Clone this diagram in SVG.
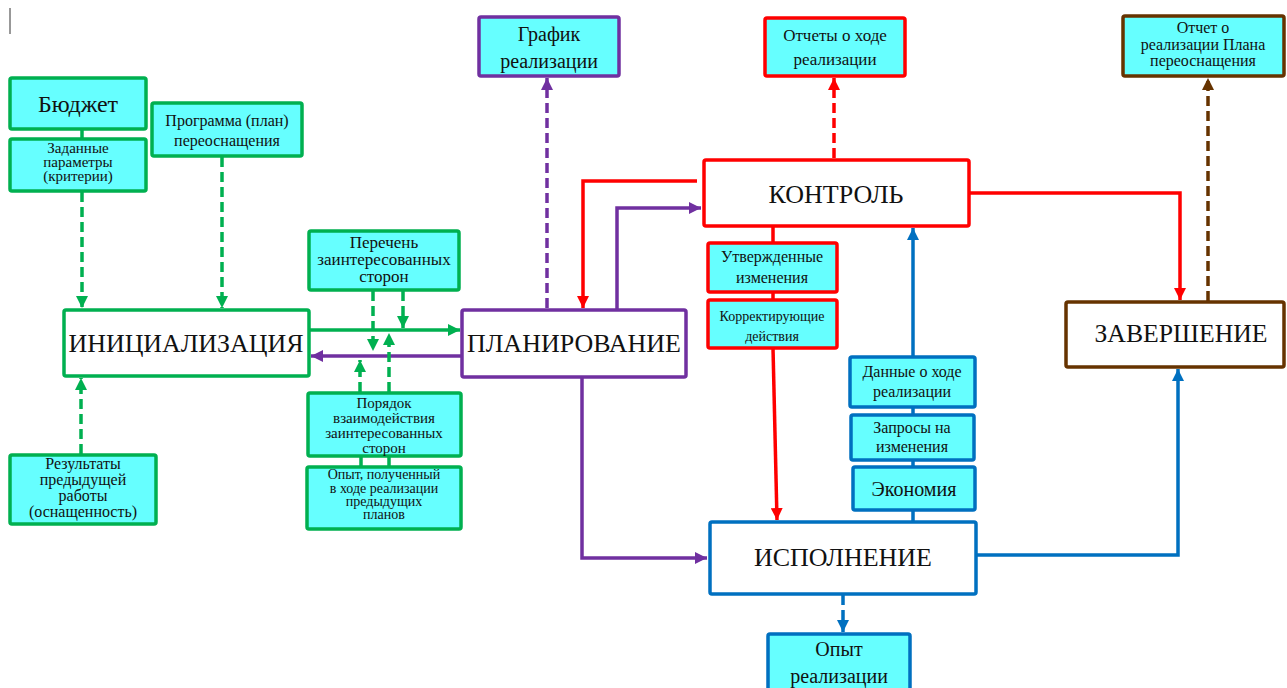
<svg xmlns="http://www.w3.org/2000/svg" width="1287" height="688" viewBox="0 0 1287 688">
<defs>
<style>
text{font-family:"Liberation Serif","DejaVu Serif",serif;fill:#111;text-anchor:middle}
.box{stroke-width:3.5}
.cy{fill:#66FFFF}
.wh{fill:#FFFFFF}
.g{stroke:#00B050}
.p{stroke:#7030A0}
.r{stroke:#FF0000}
.b{stroke:#0070C0}
.br{stroke:#663300}
.c{fill:none;stroke-width:3.5}
.d{stroke-dasharray:10 5}
.big{font-size:26px}
.s14{font-size:14px}
.s15{font-size:15px}
.s16{font-size:16px}
.s17{font-size:17px}
.s20{font-size:20px}
.s24{font-size:24px}
</style>
<marker id="ag" viewBox="0 0 10 10" refX="10" refY="5" markerWidth="12" markerHeight="12" markerUnits="userSpaceOnUse" orient="auto"><path d="M0,0L10,5L0,10z" fill="#00B050"/></marker>
<marker id="ap" viewBox="0 0 10 10" refX="10" refY="5" markerWidth="12" markerHeight="12" markerUnits="userSpaceOnUse" orient="auto"><path d="M0,0L10,5L0,10z" fill="#7030A0"/></marker>
<marker id="ar" viewBox="0 0 10 10" refX="10" refY="5" markerWidth="12" markerHeight="12" markerUnits="userSpaceOnUse" orient="auto"><path d="M0,0L10,5L0,10z" fill="#FF0000"/></marker>
<marker id="ab" viewBox="0 0 10 10" refX="10" refY="5" markerWidth="12" markerHeight="12" markerUnits="userSpaceOnUse" orient="auto"><path d="M0,0L10,5L0,10z" fill="#0070C0"/></marker>
<marker id="abr" viewBox="0 0 10 10" refX="10" refY="5" markerWidth="12" markerHeight="12" markerUnits="userSpaceOnUse" orient="auto"><path d="M0,0L10,5L0,10z" fill="#663300"/></marker>
</defs>
<rect width="1287" height="688" fill="#FFFFFF"/>
<line x1="10" y1="8" x2="10" y2="34" stroke="#333" stroke-width="1"/>

<g id="connectors">
<path class="c g" d="M82,129V139"/>
<path class="c g d" d="M82,192V308" marker-end="url(#ag)"/>
<path class="c g d" d="M222,157V308" marker-end="url(#ag)"/>
<path class="c g d" d="M81,454V378" marker-end="url(#ag)"/>
<path class="c g" d="M309,330H460" marker-end="url(#ag)"/>
<path class="c p" d="M462,356H311" marker-end="url(#ap)"/>
<path class="c g d" d="M373,291V351" marker-end="url(#ag)"/>
<path class="c g d" d="M403,291V328" marker-end="url(#ag)"/>
<path class="c g d" d="M360,392V360" marker-end="url(#ag)"/>
<path class="c g d" d="M389,392V333" marker-end="url(#ag)"/>
<path class="c g" d="M361,457V467M389,457V467"/>
<path class="c p d" d="M547,308V78" marker-end="url(#ap)"/>
<path class="c p" d="M617,309V208H701" marker-end="url(#ap)"/>
<path class="c r" d="M697,181H583V308" marker-end="url(#ar)"/>
<path class="c p" d="M582,378V558H707" marker-end="url(#ap)"/>
<path class="c r d" d="M834,158V78" marker-end="url(#ar)"/>
<path class="c r" d="M969,193H1180V300" marker-end="url(#ar)"/>
<path class="c br d" d="M1208,301V78" marker-end="url(#abr)"/>
<path class="c r" d="M773,226V243M773,292V300"/>
<path class="c r" d="M773,348L777,520" marker-end="url(#ar)"/>
<path class="c b" d="M913,357V228" marker-end="url(#ab)"/>
<path class="c b" d="M913,407V415M913,460V467M913,510V522"/>
<path class="c b" d="M976,555H1178V369" marker-end="url(#ab)"/>
<path class="c b d" d="M843,595V632" marker-end="url(#ab)"/>
</g>

<g font-family="'Liberation Serif', 'DejaVu Serif', serif">
<g id="budget"><rect class="box cy g" x="10" y="78" width="136" height="51" rx="2"/><text class="s24" x="78" y="112">Бюджет</text></g>
<g id="criteria"><rect class="box cy g" x="10" y="139" width="136" height="52" rx="2"/><text class="s15" x="78" y="153">Заданные</text><text class="s15" x="78" y="167">параметры</text><text class="s15" x="78" y="181">(критерии)</text></g>
<g id="program"><rect class="box cy g" x="152" y="103" width="150" height="53" rx="2"/><text class="s16" x="227" y="126">Программа (план)</text><text class="s16" x="227" y="146">переоснащения</text></g>
<g id="init"><rect class="box wh g" x="64" y="310" width="245" height="66" rx="2"/><text class="big" x="186" y="352" textLength="235" lengthAdjust="spacingAndGlyphs">ИНИЦИАЛИЗАЦИЯ</text></g>
<g id="results"><rect class="box cy g" x="10" y="455" width="146" height="69" rx="2"/><text class="s16" x="83" y="469">Результаты</text><text class="s16" x="83" y="485">предыдущей</text><text class="s16" x="83" y="501">работы</text><text class="s16" x="83" y="517">(оснащенность)</text></g>
<g id="stakeholders"><rect class="box cy g" x="309" y="231" width="150" height="59" rx="2"/><text class="s17" x="384" y="248">Перечень</text><text class="s17" x="384" y="265">заинтересованных</text><text class="s17" x="384" y="282">сторон</text></g>
<g id="order"><rect class="box cy g" x="308" y="393" width="153" height="63" rx="2"/><text class="s15" x="384" y="408">Порядок</text><text class="s15" x="384" y="423">взаимодействия</text><text class="s15" x="384" y="438">заинтересованных</text><text class="s15" x="384" y="453">сторон</text></g>
<g id="experience"><rect class="box cy g" x="307" y="467" width="154" height="62" rx="2"/><text class="s14" x="384" y="479">Опыт, полученный</text><text class="s14" x="384" y="493">в ходе реализации</text><text class="s14" x="384" y="506">предыдущих</text><text class="s14" x="384" y="519">планов</text></g>
<g id="plan"><rect class="box wh p" x="462" y="310" width="224" height="67" rx="2"/><text class="big" x="574" y="352" textLength="214" lengthAdjust="spacingAndGlyphs">ПЛАНИРОВАНИЕ</text></g>
<g id="schedule"><rect class="box cy p" x="479" y="17" width="140" height="59" rx="2"/><text class="s20" x="549" y="41">График</text><text class="s20" x="549" y="68">реализации</text></g>
<g id="control"><rect class="box wh r" x="704" y="160" width="265" height="66" rx="2"/><text class="big" x="836" y="203" textLength="135" lengthAdjust="spacingAndGlyphs">КОНТРОЛЬ</text></g>
<g id="reports"><rect class="box cy r" x="765" y="18" width="140" height="58" rx="2"/><text class="s17" x="835" y="41">Отчеты о ходе</text><text class="s17" x="835" y="65">реализации</text></g>
<g id="approved"><rect class="box cy r" x="708" y="243" width="129" height="49" rx="2"/><text class="s16" x="772" y="262">Утвержденные</text><text class="s16" x="772" y="283">изменения</text></g>
<g id="corrective"><rect class="box cy r" x="708" y="300" width="129" height="48" rx="2"/><text class="s14" x="772" y="321">Корректирующие</text><text class="s14" x="772" y="341">действия</text></g>
<g id="completion"><rect class="box wh br" x="1066" y="302" width="218" height="65" rx="2"/><text class="big" x="1181" y="342" textLength="173" lengthAdjust="spacingAndGlyphs">ЗАВЕРШЕНИЕ</text></g>
<g id="finalreport"><rect class="box cy br" x="1123" y="16" width="161" height="60" rx="2"/><text class="s16" x="1203" y="33">Отчет о</text><text class="s16" x="1203" y="50">реализации Плана</text><text class="s16" x="1203" y="66">переоснащения</text></g>
<g id="data"><rect class="box cy b" x="850" y="357" width="125" height="50" rx="2"/><text class="s16" x="912" y="377">Данные о ходе</text><text class="s16" x="912" y="397">реализации</text></g>
<g id="requests"><rect class="box cy b" x="851" y="415" width="123" height="45" rx="2"/><text class="s16" x="912" y="433">Запросы на</text><text class="s16" x="912" y="452">изменения</text></g>
<g id="economy"><rect class="box cy b" x="853" y="467" width="122" height="43" rx="2"/><text class="s20" x="914" y="496">Экономия</text></g>
<g id="execution"><rect class="box wh b" x="710" y="522" width="266" height="72" rx="2"/><text class="big" x="843" y="566" textLength="178" lengthAdjust="spacingAndGlyphs">ИСПОЛНЕНИЕ</text></g>
<g id="implexp"><rect class="box cy b" x="768" y="634" width="142" height="62" rx="2"/><text class="s20" x="839" y="656">Опыт</text><text class="s20" x="839" y="683">реализации</text></g>
</g>
</svg>
